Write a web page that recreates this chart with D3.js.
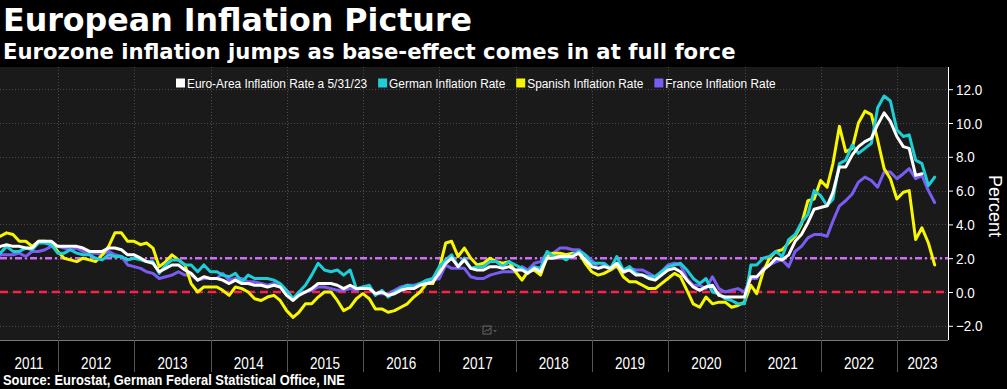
<!DOCTYPE html>
<html><head><meta charset="utf-8">
<script src="https://cdn.jsdelivr.net/npm/d3@7"></script>
<style>
html,body{margin:0;padding:0;background:#000;}
svg{display:block;}
</style></head><body>
<svg id="chart" width="1007" height="389"></svg>
<script>
// ---------------- data (monthly, year-over-year %, first value = Jan 2011) ----------------
const firstYear = 2011;
const euroArea = [
 2.3,2.4,2.7,2.8,2.7,2.7,2.6,2.6,3.0,3.0,3.0,2.7,
 2.7,2.7,2.7,2.6,2.4,2.4,2.4,2.6,2.6,2.5,2.2,2.2,
 2.0,1.8,1.7,1.2,1.4,1.6,1.6,1.3,1.1,0.7,0.9,0.8,
 0.8,0.7,0.5,0.7,0.5,0.5,0.4,0.4,0.3,0.4,0.3,-0.2,
 -0.5,-0.2,0.0,0.2,0.5,0.5,0.5,0.4,0.2,0.4,0.2,0.2,
 0.2,-0.1,0.0,-0.2,-0.1,0.1,0.2,0.2,0.4,0.5,0.6,1.1,
 1.7,2.0,1.5,1.9,1.4,1.3,1.3,1.5,1.5,1.4,1.5,1.3,
 1.3,1.1,1.4,1.2,2.0,2.0,2.1,2.1,2.1,2.3,1.9,1.5,
 1.4,1.5,1.4,1.7,1.2,1.3,1.0,1.0,0.8,0.7,1.0,1.3,
 1.4,1.2,0.7,0.3,0.1,0.3,0.4,-0.2,-0.3,-0.3,-0.3,-0.3,
 0.9,0.9,1.3,1.6,2.0,1.9,2.2,3.0,3.4,4.1,4.9,5.0,
 5.1,5.9,7.4,7.4,8.1,8.6,8.9,9.1,9.9,10.6,10.1,9.2,
 8.6,8.5,6.9,7.0
];
const german = [
 2.0,2.2,2.3,2.7,2.4,2.4,2.6,2.5,2.9,2.9,2.8,2.3,
 2.3,2.5,2.3,2.2,2.2,2.0,1.9,2.2,2.1,2.1,1.9,2.0,
 1.9,1.8,1.8,1.1,1.6,1.9,1.9,1.6,1.6,1.2,1.6,1.2,
 1.2,1.0,0.9,1.1,0.6,1.0,0.8,0.8,0.8,0.7,0.5,0.1,
 -0.4,0.0,0.4,1.0,1.7,1.3,1.2,1.3,1.0,1.3,0.2,0.3,
 0.4,-0.2,0.1,-0.3,0.0,0.2,0.4,0.3,0.5,0.7,0.8,1.5,
 1.9,2.2,1.5,2.0,1.4,1.5,1.5,1.8,1.8,1.5,1.8,1.6,
 1.4,1.2,1.5,1.4,2.4,2.1,2.1,1.9,2.2,2.4,2.2,1.7,
 1.7,1.7,1.4,2.1,1.3,1.5,1.1,1.0,0.9,0.9,1.2,1.5,
 1.6,1.7,1.3,0.8,0.5,0.8,0.0,-0.1,-0.4,-0.5,-0.7,-0.7,
 1.6,1.6,2.0,2.1,2.4,2.1,3.1,3.4,4.1,4.6,6.0,5.7,
 5.1,5.5,7.6,7.8,8.7,8.2,8.5,8.8,10.9,11.6,11.3,9.6,
 9.2,9.3,7.8,7.6,6.3,6.8
];
const spanish = [
 3.0,3.4,3.3,3.5,3.4,3.0,3.0,2.7,3.0,3.0,2.9,2.4,
 2.0,1.9,1.8,2.0,1.9,1.8,2.2,2.7,3.5,3.5,3.0,3.0,
 2.8,2.9,2.6,1.5,1.8,2.2,1.9,1.6,0.5,0.0,0.3,0.3,
 0.3,0.1,-0.2,0.3,0.2,0.0,-0.4,-0.5,-0.3,-0.2,-0.5,-1.1,
 -1.5,-1.2,-0.7,-0.7,-0.3,0.0,0.0,-0.5,-1.1,-0.9,-0.4,-0.1,
 -0.4,-1.0,-1.0,-1.2,-1.1,-0.9,-0.7,-0.3,0.0,0.5,0.5,1.4,
 2.9,3.0,2.1,2.6,2.0,1.6,1.7,2.0,1.8,1.7,1.8,1.2,
 0.7,1.2,1.3,1.0,2.1,2.3,2.3,2.2,2.3,2.3,1.7,1.2,
 1.0,1.1,1.3,1.6,0.9,0.6,0.6,0.4,0.2,0.2,0.5,0.8,
 1.1,0.9,0.1,-0.7,-0.9,-0.3,-0.7,-0.6,-0.6,-0.9,-0.8,-0.6,
 0.4,-0.1,1.2,2.0,2.4,2.5,2.9,3.3,4.0,5.4,5.5,6.6,
 6.2,7.6,9.8,8.3,8.5,10.0,10.7,10.5,9.0,7.3,6.7,5.5,
 5.9,6.0,3.1,3.8,2.9,1.6
];
const france = [
 2.0,1.8,2.2,2.2,2.2,2.3,2.1,2.4,2.4,2.5,2.7,2.7,
 2.6,2.5,2.6,2.4,2.3,2.3,2.2,2.4,2.2,2.1,1.6,1.5,
 1.4,1.2,1.1,0.8,0.9,1.0,1.2,1.0,1.0,0.7,0.8,0.8,
 0.8,1.1,0.7,0.8,0.8,0.6,0.6,0.5,0.4,0.5,0.4,0.1,
 -0.4,0.0,0.0,0.1,0.3,0.3,0.2,0.1,0.1,0.2,0.1,0.3,
 0.3,-0.1,-0.1,-0.1,0.1,0.3,0.4,0.4,0.5,0.5,0.7,0.8,
 1.6,1.4,1.4,1.4,0.9,0.8,0.8,1.0,1.1,1.2,1.2,1.2,
 1.5,1.3,1.7,1.8,2.3,2.3,2.6,2.6,2.5,2.5,2.2,1.9,
 1.4,1.6,1.3,1.5,1.1,1.4,1.3,1.3,1.1,0.9,1.2,1.6,
 1.7,1.6,0.8,0.4,0.4,0.2,0.9,0.2,0.0,0.1,0.2,0.0,
 0.8,0.8,1.4,1.6,1.8,1.9,1.5,2.4,2.7,3.2,3.4,3.4,
 3.3,4.2,5.1,5.4,5.8,6.5,6.8,6.6,6.2,7.1,7.1,6.7,
 7.0,7.3,6.7,6.9,6.0,5.3
];
const seriesNames = ["Euro-Area Inflation Rate a 5/31/23","German Inflation Rate","Spanish Inflation Rate","France Inflation Rate"];
const seriesColors = ["#ffffff","#1ccfd6","#f7f700","#7b5cf2"];
const yTicks = [-2,0,2,4,6,8,10,12];
const yearLabels = [2011,2012,2013,2014,2015,2016,2017,2018,2019,2020,2021,2022,2023];
const targetLevel = 2.0;
const zeroLevel = 0.0;
const titleText = "European Inflation Picture";
const subtitleText = "Eurozone inflation jumps as base-effect comes in at full force";
const sourceText = "Source: Eurostat, German Federal Statistical Office, INE";

// ---------------- layout ----------------
const svg = d3.select("#chart");
const P = {left:0, right:948, top:67, bottom:340};
const narrow = "'Liberation Sans','Arial',sans-serif";

const x = d3.scaleTime()
  .domain([new Date(2011,0,1), new Date(2024,0,1)])
  .range([-18.3, 973.3]);
const y = d3.scaleLinear().domain([-2,12]).range([325.8, 89.2]);

const toPoints = arr => arr.map((v,i)=>({date:new Date(firstYear, i+1, 0), v}));
const allSeries = [euroArea, german, spanish, france].map(toPoints);

svg.append("rect").attr("width",1007).attr("height",389).attr("fill","#000");

// titles
svg.append("text").text(titleText).attr("x",3).attr("y",31)
  .attr("fill","#fff").attr("font-family","'DejaVu Sans',sans-serif")
  .attr("font-weight","bold").attr("font-size",31.7);
svg.append("text").text(subtitleText).attr("x",3).attr("y",59)
  .attr("fill","#fff").attr("font-family","'DejaVu Sans',sans-serif")
  .attr("font-weight","bold").attr("font-size",21.2);

// panel
svg.append("rect").attr("x",P.left).attr("y",P.top)
  .attr("width",P.right-P.left).attr("height",P.bottom-P.top).attr("fill","#1a1a1a");

const defs = svg.append("defs");
defs.append("clipPath").attr("id","clip").append("rect")
  .attr("x",P.left).attr("y",P.top).attr("width",P.right-P.left).attr("height",P.bottom-P.top);

// grid
const yearStarts = yearLabels.slice(1).map(yr=>new Date(yr,0,1));
const grid = svg.append("g").attr("clip-path","url(#clip)");
grid.selectAll("line.h").data(yTicks).join("line")
  .attr("x1",P.left).attr("x2",P.right)
  .attr("y1",d=>Math.round(y(d))+0.5).attr("y2",d=>Math.round(y(d))+0.5)
  .attr("stroke","#4a4a4a").attr("stroke-width",1).attr("stroke-dasharray","1,2");
grid.selectAll("line.v").data(yearStarts).join("line")
  .attr("x1",d=>Math.round(x(d))+0.5).attr("x2",d=>Math.round(x(d))+0.5)
  .attr("y1",P.top).attr("y2",P.bottom)
  .attr("stroke","#4a4a4a").attr("stroke-width",1).attr("stroke-dasharray","1,2");

// reference lines
const refs = svg.append("g").attr("clip-path","url(#clip)");
refs.append("line").attr("x1",P.left).attr("x2",P.right)
  .attr("y1",y(zeroLevel)).attr("y2",y(zeroLevel))
  .attr("stroke","#ff1f48").attr("stroke-width",2.5).attr("stroke-dasharray","8,5");
refs.append("line").attr("x1",P.left).attr("x2",P.right)
  .attr("y1",y(targetLevel)).attr("y2",y(targetLevel))
  .attr("stroke","#cf6cfa").attr("stroke-width",2.5).attr("stroke-dasharray","7,3,2,3");

// series
const line = d3.line().x(d=>x(d.date)).y(d=>y(d.v));
const lines = svg.append("g").attr("clip-path","url(#clip)");
[3,2,1,0].forEach(i=>{
  lines.append("path").datum(allSeries[i]).attr("d",line)
    .attr("fill","none").attr("stroke",seriesColors[i]).attr("stroke-width",3)
    .attr("stroke-linejoin","round").attr("stroke-linecap","round");
});

// helper: horizontally condensed text
function condensed(g, str, x0, y0, size, sx, anchor, weight){
  const t = g.append("text").text(str)
    .attr("transform",`translate(${x0},${y0}) scale(${sx},1)`)
    .attr("fill","#fff").attr("font-family",narrow).attr("font-size",size)
    .attr("text-anchor",anchor||"start");
  if(weight) t.attr("font-weight",weight);
  return t;
}

// legend
const leg = svg.append("g");
let lx = 176;
const legScale = 0.88;
seriesNames.forEach((name,i)=>{
  leg.append("rect").attr("x",lx).attr("y",78.5).attr("width",9).attr("height",9).attr("fill",seriesColors[i]);
  const t = condensed(leg, name, lx+11, 88, 13.5, legScale);
  lx += 11 + t.node().getComputedTextLength()*legScale + 11;
});

// right axis
const yAxis = d3.axisRight(y).tickValues(yTicks).tickFormat(d3.format(".1f")).tickSize(5).tickPadding(3);
const ax = svg.append("g").attr("transform",`translate(${P.right},0)`).call(yAxis);
ax.select(".domain").attr("stroke","#fff").attr("d",`M0.5,${P.top}V${P.bottom}`);
ax.selectAll(".tick line").attr("stroke","#fff");
ax.selectAll(".tick text").remove();
ax.selectAll(".tick").each(function(d){
  condensed(d3.select(this), d3.format(".1f")(d), 8, 5, 14.5, 0.93);
});
svg.append("text").text("Percent").attr("transform",`translate(989,206) rotate(90)`)
  .attr("text-anchor","middle").attr("fill","#fff")
  .attr("font-family","'Liberation Sans',sans-serif").attr("font-size",18);

// x axis band
const xb = svg.append("g");
xb.append("line").attr("x1",0).attr("x2",P.right).attr("y1",P.bottom+0.5).attr("y2",P.bottom+0.5).attr("stroke","#777");
xb.selectAll("line.sep").data(yearStarts).join("line")
  .attr("x1",d=>Math.round(x(d))+0.5).attr("x2",d=>Math.round(x(d))+0.5)
  .attr("y1",P.bottom).attr("y2",372).attr("stroke","#555");
yearLabels.forEach(d=>{
  const a=Math.max(P.left,x(new Date(d,0,1))), b=Math.min(P.right,x(new Date(d+1,0,1)));
  condensed(xb, String(d), (a+b)/2, 369, 16.5, 0.82, "middle");
});

// small chart icon
const ic = svg.append("g").attr("transform","translate(483,326)");
ic.append("rect").attr("width",8).attr("height",8).attr("fill","none").attr("stroke","#666");
ic.append("path").attr("d","M1.5,6L3.5,3.5L5,5L7,2").attr("fill","none").attr("stroke","#666");
ic.append("path").attr("d","M10,4h4l-2,2.5z").attr("fill","#555");

// source
condensed(svg, sourceText, 3, 385, 14, 0.92, "start", "bold");
</script>
</body></html>
